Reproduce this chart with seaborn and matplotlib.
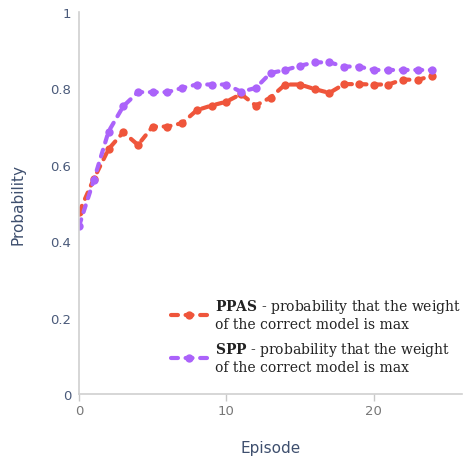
import numpy as np
import pandas as pd
import matplotlib
matplotlib.use("Agg")
import matplotlib.pyplot as plt
import seaborn as sns

# datos
episodios = list(range(25))
ppas = [0.476, 0.563, 0.641, 0.685, 0.652, 0.700, 0.700, 0.709, 0.743, 0.755,
        0.765, 0.785, 0.755, 0.776, 0.810, 0.810, 0.798, 0.788, 0.811, 0.811,
        0.810, 0.810, 0.823, 0.822, 0.833]
spp = [0.440, 0.560, 0.687, 0.753, 0.790, 0.790, 0.790, 0.801, 0.810, 0.810,
       0.810, 0.791, 0.801, 0.840, 0.848, 0.859, 0.868, 0.868, 0.857, 0.857,
       0.848, 0.848, 0.848, 0.848, 0.848]
etiquetas = ["$\\bf{PPAS}$ - probability that the weight\nof the correct model is max",
             "$\\bf{SPP}$ - probability that the weight\nof the correct model is max"]
colores = ["#EF553B", "#AB63FA"]

df = pd.DataFrame({
    "Episode": episodios * 2,
    "Probability": ppas + spp,
    "serie": [etiquetas[0]] * len(ppas) + [etiquetas[1]] * len(spp),
})

sns.set_style("white")
plt.rcParams["mathtext.fontset"] = "dejavuserif"
plt.rcParams["lines.scale_dashes"] = False

fig = plt.figure(figsize=(4.68, 4.60), dpi=100)
ax = fig.add_axes([0.169, 0.141, 0.818, 0.831])

sns.lineplot(data=df, x="Episode", y="Probability", hue="serie",
             palette=colores, marker="o", markersize=6, markeredgewidth=0,
             linewidth=3, ax=ax)
for ln in ax.get_lines():
    ln.set_dashes((5, 5.5))
    ln.set_dash_capstyle("round")

ax.set_xlim(0, 26)
ax.set_ylim(0, 1)
ax.set_xticks([0, 10, 20])
ax.set_yticks([0, 0.2, 0.4, 0.6, 0.8, 1])
ax.set_yticklabels(["0", "0.2", "0.4", "0.6", "0.8", "1"])

for s in ["top", "right"]:
    ax.spines[s].set_visible(False)
for s in ["left", "bottom"]:
    ax.spines[s].set_color("#d0d0d0")
    ax.spines[s].set_linewidth(1.2)

ax.tick_params(axis="x", bottom=True, length=5, width=1, color="#c8c8c8",
               labelcolor="#777777", labelsize=9.5, pad=2)
ax.tick_params(axis="y", left=False, labelcolor="#4a5a7a", labelsize=9.5, pad=2)
ax.set_xlabel("Episode", color="#3e4f6e", fontsize=11, labelpad=17)
ax.set_ylabel("Probability", color="#3e4f6e", fontsize=11, labelpad=18)

leg = ax.legend(loc="lower right", bbox_to_anchor=(1.03, 0.02), frameon=False,
                prop={"family": "DejaVu Serif", "size": 10},
                handlelength=2.6, labelspacing=0.6, handletextpad=0.6)
for t in leg.get_texts():
    t.set_color("#222222")

plt.savefig("out.png", dpi=100)
